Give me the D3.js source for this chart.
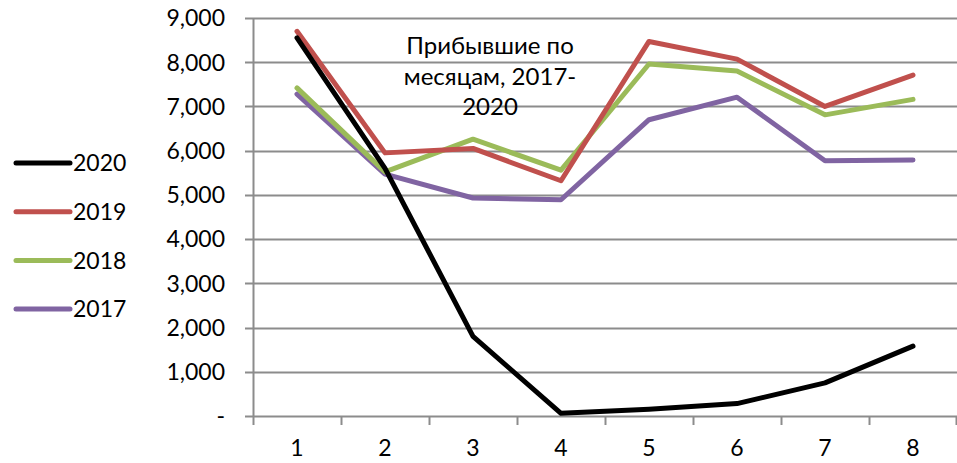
<!DOCTYPE html>
<html>
<head>
<meta charset="utf-8">
<script src="https://cdn.jsdelivr.net/npm/d3@7"></script>
<style>
  body { margin: 0; background: #fff; }
  svg text { font-family: Lato, "Open Sans", sans-serif; fill: #000; }
</style>
</head>
<body>
<svg id="chart" width="957" height="463"></svg>
<script>
(function () {
  "use strict";

  // months 1..8
  var months = [1, 2, 3, 4, 5, 6, 7, 8];
  var yTicks = [0, 1000, 2000, 3000, 4000, 5000, 6000, 7000, 8000, 9000];

  // arrivals per month
  var v2020 = [8550, 5600, 1800, 60, 150, 280, 750, 1580];
  var v2019 = [8700, 5950, 6050, 5320, 8470, 8070, 7000, 7710];
  var v2018 = [7420, 5520, 6260, 5560, 7960, 7800, 6810, 7160];
  var v2017 = [7280, 5470, 4930, 4890, 6700, 7210, 5770, 5790];

  var seriesNames = ['2020', '2019', '2018', '2017'];
  var seriesColors = ['#000000', '#c0504d', '#9bbb59', '#8064a2'];
  var seriesValues = [v2020, v2019, v2018, v2017];

  var titleLines = ['Прибывшие по', 'месяцам, 2017-', '2020'];

  var svg = d3.select('#chart');
  var margin = {left: 253, right: 0, top: 18, bottom: 47};
  var width = 957 - margin.left - margin.right,
      height = 463 - margin.top - margin.bottom;

  var x = d3.scaleBand().domain(months).range([0, width]);
  var y = d3.scaleLinear().domain([0, 9000]).range([height, 0]);

  var g = svg.append('g')
      .attr('transform', 'translate(' + margin.left + ',' + margin.top + ')');

  // horizontal gridlines, sticking out to the left a bit like Excel's ticks
  g.selectAll('.grid')
      .data(yTicks)
    .enter().append('line')
      .attr('class', 'grid')
      .attr('x1', -8)
      .attr('x2', width)
      .attr('y1', function (d) { return Math.round(y(d)) + 0.5; })
      .attr('y2', function (d) { return Math.round(y(d)) + 0.5; })
      .attr('stroke', '#8c8c8c')
      .attr('stroke-width', 2);

  // y axis line
  g.append('line')
      .attr('x1', 0.5).attr('x2', 0.5)
      .attr('y1', 0).attr('y2', height)
      .attr('stroke', '#8c8c8c')
      .attr('stroke-width', 2);

  // y labels
  g.selectAll('.ylab')
      .data(yTicks)
    .enter().append('text')
      .attr('class', 'ylab')
      .attr('x', -28)
      .attr('y', function (d) { return y(d); })
      .attr('dy', '0.36em')
      .attr('text-anchor', 'end')
      .style('font-size', '23px')
      .text(function (d) { return d === 0 ? '-' : d3.format(',')(d); });

  // x tick marks at the band edges
  var edges = months.map(function (m) { return x(m); }).concat([width]);
  g.selectAll('.xtick')
      .data(edges)
    .enter().append('line')
      .attr('class', 'xtick')
      .attr('x1', function (d) { return Math.min(d, width - 1) + 0.5; })
      .attr('x2', function (d) { return Math.min(d, width - 1) + 0.5; })
      .attr('y1', height)
      .attr('y2', height + 9)
      .attr('stroke', '#8c8c8c')
      .attr('stroke-width', 2);

  g.selectAll('.xlab')
      .data(months)
    .enter().append('text')
      .attr('class', 'xlab')
      .attr('x', function (d) { return x(d) + x.bandwidth() / 2; })
      .attr('y', height + 40)
      .attr('text-anchor', 'middle')
      .style('font-size', '23px')
      .text(function (d) { return d; });

  // title inside the plot
  g.append('text')
      .attr('text-anchor', 'middle')
      .style('font-size', '24px')
    .selectAll('tspan')
      .data(titleLines)
    .enter().append('tspan')
      .attr('x', 490 - margin.left)
      .attr('y', function (d, i) { return 36 + i * 30.5; })
      .text(function (d) { return d; });

  var line = d3.line()
      .x(function (d, i) { return x(months[i]) + x.bandwidth() / 2; })
      .y(function (d) { return y(d); });

  // draw oldest first so 2020 sits on top
  seriesValues.slice().reverse().forEach(function (vals, k) {
    var i = seriesValues.length - 1 - k;
    g.append('path')
        .datum(vals)
        .attr('d', line)
        .attr('fill', 'none')
        .attr('stroke', seriesColors[i])
        .attr('stroke-width', 5)
        .attr('stroke-linejoin', 'round')
        .attr('stroke-linecap', 'round');
  });

  // legend on the left
  var legend = svg.selectAll('.legend')
      .data(seriesNames)
    .enter().append('g')
      .attr('class', 'legend')
      .attr('transform', function (d, i) { return 'translate(16,' + (163 + i * 48.7) + ')'; });
  legend.append('line')
      .attr('x1', 0).attr('x2', 54)
      .attr('y1', 0).attr('y2', 0)
      .attr('stroke', function (d, i) { return seriesColors[i]; })
      .attr('stroke-width', 5)
      .attr('stroke-linecap', 'round');
  legend.append('text')
      .attr('x', 57)
      .attr('dy', '0.36em')
      .style('font-size', '23px')
      .text(function (d) { return d; });
}());
</script>
</body>
</html>
